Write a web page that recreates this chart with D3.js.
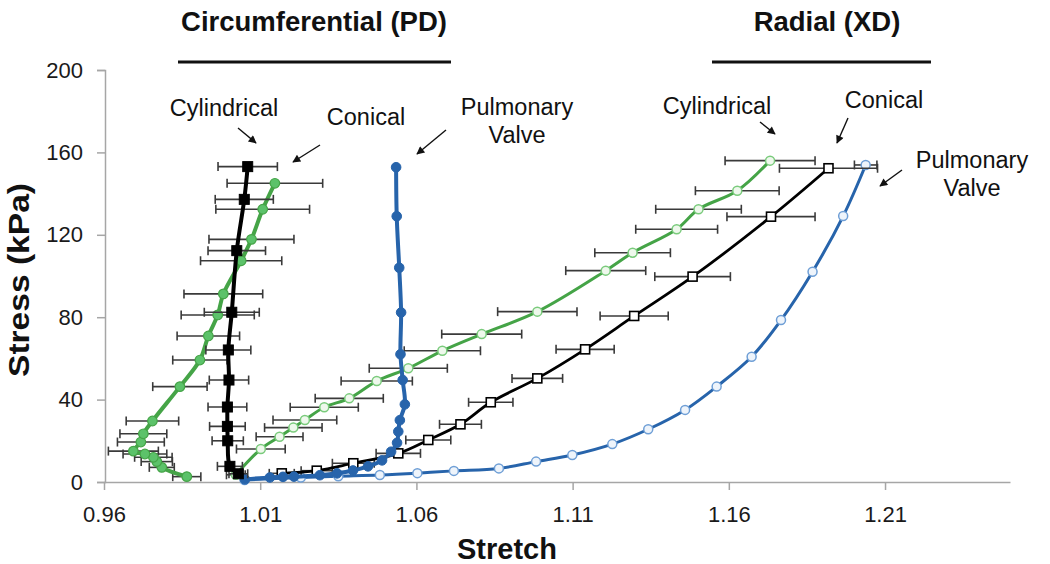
<!DOCTYPE html>
<html>
<head>
<meta charset="utf-8">
<script src="https://cdn.jsdelivr.net/npm/d3@7"></script>
<style>
  html, body { margin: 0; padding: 0; background: #fff; }
  svg { display: block; font-family: "Liberation Sans", Arial, sans-serif; }
</style>
</head>
<body>
<svg id="chart" width="1050" height="564"></svg>
<script>
// ---------- Data ----------
const xTicks = [0.96, 1.01, 1.06, 1.11, 1.16, 1.21];
const yTicks = [0, 40, 80, 120, 160, 200];

// Circumferential (PD) - Cylindrical (filled black squares)
const circCylStretch = [1.0030, 1.0003, 0.9996, 0.9995, 0.9995, 1.0000, 0.9998, 1.0009, 1.0025, 1.0049, 1.0060];
const circCylStress  = [4.0, 7.6, 20.0, 27.0, 36.4, 49.5, 64.1, 82.4, 112.3, 137.2, 153.1];
const circCylErr     = [0.003, 0.004, 0.005, 0.0057, 0.0062, 0.0063, 0.0072, 0.0088, 0.0092, 0.0093, 0.0095];

// Circumferential (PD) - Conical (filled green circles)
const circConStretch = [0.9865, 0.9785, 0.9769, 0.9758, 0.9731, 0.9694, 0.9718, 0.9726, 0.9755, 0.9843, 0.9907, 0.9934, 0.9964, 0.9982, 1.0039, 1.0072, 1.0108, 1.0147];
const circConStress  = [2.6, 7.1, 9.9, 12.0, 13.6, 15.0, 19.4, 23.4, 29.6, 46.3, 59.2, 70.9, 81.1, 91.3, 107.4, 117.8, 132.4, 145.0];
const circConErr     = [0.0045, 0.004, 0.005, 0.006, 0.007, 0.008, 0.0075, 0.0075, 0.0084, 0.0087, 0.0087, 0.010, 0.0117, 0.0126, 0.013, 0.0136, 0.015, 0.0153];

// Circumferential (PD) - Pulmonary Valve (filled blue circles)
const circPVStretch = [1.0051, 1.0131, 1.0173, 1.0208, 1.0291, 1.0346, 1.0397, 1.0445, 1.0490, 1.0519, 1.0538, 1.0542, 1.0547, 1.0563, 1.0556, 1.0549, 1.0551, 1.0545, 1.0537, 1.0535];
const circPVStress  = [1.3, 2.2, 2.5, 2.6, 3.3, 4.2, 5.6, 7.6, 10.5, 14.7, 19.0, 24.5, 30.0, 37.7, 49.5, 62.0, 82.3, 104.0, 129.0, 152.8];

// Radial (XD) - Cylindrical (hollow green circles)
const radCylStretch = [1.0022, 1.0102, 1.0162, 1.0206, 1.0243, 1.0305, 1.0385, 1.0473, 1.0574, 1.0683, 1.0809, 1.0987, 1.1206, 1.1292, 1.1433, 1.1503, 1.1627, 1.1732];
const radCylStress  = [3.5, 16.0, 22.0, 26.4, 30.1, 36.3, 40.6, 49.0, 55.2, 63.7, 71.8, 82.7, 102.6, 111.3, 122.7, 132.4, 141.4, 156.0];
const radCylErr     = [0.003, 0.0078, 0.0075, 0.0092, 0.0102, 0.0109, 0.0109, 0.0114, 0.0125, 0.0122, 0.0128, 0.0127, 0.0128, 0.0121, 0.0131, 0.0137, 0.0134, 0.0144];

// Radial (XD) - Conical (hollow black squares)
const radConStretch = [1.0169, 1.0281, 1.0398, 1.0542, 1.0638, 1.0741, 1.0838, 1.0987, 1.1140, 1.1297, 1.1484, 1.1735, 1.1919];
const radConStress  = [4.2, 5.5, 9.1, 13.9, 20.4, 28.0, 38.7, 50.3, 64.4, 80.6, 99.7, 128.8, 152.3];
const radConErr     = [0.004, 0.005, 0.0067, 0.0071, 0.0072, 0.0067, 0.0071, 0.0081, 0.0093, 0.0109, 0.0121, 0.0141, 0.0157];

// Radial (XD) - Pulmonary Valve (hollow blue circles)
const radPVStretch = [1.0050, 1.0230, 1.0350, 1.0483, 1.0603, 1.0720, 1.0864, 1.0983, 1.1099, 1.1227, 1.1342, 1.1460, 1.1561, 1.1673, 1.1767, 1.1868, 1.1966, 1.2038];
const radPVStress  = [1.0, 2.2, 2.8, 3.4, 4.3, 5.4, 6.6, 9.9, 13.1, 18.4, 25.6, 35.0, 46.3, 60.8, 78.6, 102.1, 129.1, 153.9];
const radPVErr     = [0, 0, 0, 0, 0, 0, 0, 0, 0, 0, 0, 0, 0, 0, 0, 0, 0, 0.0036];

// ---------- Chart ----------
const svg = d3.select("#chart");
const x = d3.scaleLinear().domain([0.96, 1.25]).range([104, 1010]);
const y = d3.scaleLinear().domain([0, 200]).range([482, 70]);

const axisColor = "#a6a6a6";

// Y axis
const yAxis = svg.append("g").attr("transform", "translate(105,0)")
  .call(d3.axisLeft(y).tickValues(yTicks).tickSize(8).tickPadding(14).tickFormat(d3.format("d")));
yAxis.select(".domain").attr("stroke", axisColor).attr("stroke-width", 1.5);
yAxis.selectAll(".tick line").attr("stroke", axisColor).attr("stroke-width", 1.5);
yAxis.selectAll(".tick text").attr("font-size", 22).attr("fill", "#1a1a1a")
  .attr("font-family", "Liberation Sans, Arial, sans-serif");

// X axis
const xAxis = svg.append("g").attr("transform", "translate(0,482)")
  .call(d3.axisBottom(x).tickValues(xTicks).tickSize(8).tickSizeOuter(0).tickPadding(16).tickFormat(d3.format(".2f")));
xAxis.select(".domain").attr("stroke", axisColor).attr("stroke-width", 1.5);
xAxis.selectAll(".tick line").attr("stroke", axisColor).attr("stroke-width", 1.5);
xAxis.selectAll(".tick text").attr("font-size", 22).attr("fill", "#1a1a1a")
  .attr("font-family", "Liberation Sans, Arial, sans-serif");

// Axis titles
svg.append("text").attr("x", 507).attr("y", 559).attr("text-anchor", "middle")
  .attr("font-size", 29).attr("font-weight", "bold").attr("fill", "#111").text("Stretch");
svg.append("text").attr("transform", "translate(29,280) rotate(-90)").attr("text-anchor", "middle")
  .attr("font-size", 29).attr("font-weight", "bold").attr("fill", "#111")
  .attr("textLength", 194).attr("lengthAdjust", "spacingAndGlyphs").text("Stress (kPa)");

// Group headers
svg.append("text").attr("x", 314).attr("y", 31).attr("text-anchor", "middle")
  .attr("font-size", 27.5).attr("font-weight", "bold").attr("fill", "#111").text("Circumferential (PD)");
svg.append("text").attr("x", 827).attr("y", 31).attr("text-anchor", "middle")
  .attr("font-size", 27.5).attr("font-weight", "bold").attr("fill", "#111").text("Radial (XD)");
svg.append("line").attr("x1", 178).attr("x2", 451).attr("y1", 62).attr("y2", 62)
  .attr("stroke", "#111").attr("stroke-width", 3);
svg.append("line").attr("x1", 712).attr("x2", 931).attr("y1", 62).attr("y2", 62)
  .attr("stroke", "#111").attr("stroke-width", 3);

// ---------- Series drawing ----------
const plot = svg.append("g");

function zip(xs, ys, es) {
  return xs.map((v, i) => ({ x: v, y: ys[i], e: es ? es[i] : 0 }));
}

function errorBars(data, color) {
  const g = plot.append("g").attr("stroke", color).attr("stroke-width", 1.6).attr("fill", "none");
  data.filter(d => d.e > 0).forEach(d => {
    const yy = y(d.y), x0 = x(d.x - d.e), x1 = x(d.x + d.e);
    g.append("line").attr("x1", x0).attr("x2", x1).attr("y1", yy).attr("y2", yy);
    g.append("line").attr("x1", x0).attr("x2", x0).attr("y1", yy - 4.5).attr("y2", yy + 4.5);
    g.append("line").attr("x1", x1).attr("x2", x1).attr("y1", yy - 4.5).attr("y2", yy + 4.5);
  });
}

function seriesLine(data, color, width, curve) {
  plot.append("path").datum(data)
    .attr("fill", "none").attr("stroke", color).attr("stroke-width", width)
    .attr("stroke-linejoin", "round").attr("stroke-linecap", "round")
    .attr("d", d3.line().x(d => x(d.x)).y(d => y(d.y)).curve(curve));
}

function circles(data, r, fill, stroke, sw) {
  plot.append("g").selectAll("circle").data(data).join("circle")
    .attr("cx", d => x(d.x)).attr("cy", d => y(d.y)).attr("r", r)
    .attr("fill", fill).attr("stroke", stroke).attr("stroke-width", sw);
}

function squares(data, s, fill, stroke, sw) {
  plot.append("g").selectAll("rect").data(data).join("rect")
    .attr("x", d => x(d.x) - s / 2).attr("y", d => y(d.y) - s / 2)
    .attr("width", s).attr("height", s)
    .attr("fill", fill).attr("stroke", stroke).attr("stroke-width", sw);
}

const errColor = "#3a3a3a";
const greenLine = "#45a447", greenFill = "#5cc26a", greenLight = "#7acb7c";
const blueLine = "#2764ab", blueLight = "#6f9fd6";

// Radial PV
const radPV = zip(radPVStretch, radPVStress, radPVErr);
errorBars(radPV, errColor);
seriesLine(radPV, blueLine, 3, d3.curveCatmullRom);
circles(radPV, 4.5, "#eef4fb", blueLight, 1.5);

// Radial Conical
const radCon = zip(radConStretch, radConStress, radConErr);
errorBars(radCon, errColor);
seriesLine(radCon, "#000", 2.8, d3.curveCatmullRom);
squares(radCon, 9, "#ffffff", "#000", 1.6);

// Radial Cylindrical
const radCyl = zip(radCylStretch, radCylStress, radCylErr);
errorBars(radCyl, errColor);
seriesLine(radCyl, greenLine, 3, d3.curveCatmullRom);
circles(radCyl, 4.5, "#eef8ec", greenLight, 1.5);

// Circumferential PV
const circPV = zip(circPVStretch, circPVStress, null);
seriesLine(circPV, blueLine, 4, d3.curveCatmullRom);
circles(circPV, 4.8, blueLine, blueLine, 1);

// Circumferential Conical
const circCon = zip(circConStretch, circConStress, circConErr);
errorBars(circCon, errColor);
seriesLine(circCon, greenLine, 4, d3.curveCatmullRom);
circles(circCon, 4.8, greenFill, greenLine, 1.2);

// Circumferential Cylindrical
const circCyl = zip(circCylStretch, circCylStress, circCylErr);
errorBars(circCyl, errColor);
seriesLine(circCyl, "#000", 4, d3.curveCatmullRom);
squares(circCyl, 10, "#000", "#000", 1);

// ---------- Annotations ----------
const ann = svg.append("g").attr("font-size", 23.5).attr("fill", "#111").attr("text-anchor", "middle");
function label(tx, ty, lines) {
  lines.forEach((t, i) => ann.append("text").attr("x", tx).attr("y", ty + i * 28).text(t));
}
label(224, 116, ["Cylindrical"]);
label(366, 125, ["Conical"]);
label(517, 115, ["Pulmonary", "Valve"]);
label(717, 114, ["Cylindrical"]);
label(884, 108, ["Conical"]);
label(972, 168, ["Pulmonary", "Valve"]);

const defs = svg.append("defs");
defs.append("marker").attr("id", "arrow").attr("viewBox", "0 0 10 10")
  .attr("refX", 9).attr("refY", 5).attr("markerWidth", 10).attr("markerHeight", 8)
  .attr("markerUnits", "userSpaceOnUse").attr("orient", "auto")
  .append("path").attr("d", "M0,0 L10,5 L0,10 z").attr("fill", "#111");

const arrows = [
  [238, 128, 256, 143],
  [320, 145, 293, 162],
  [446, 130, 417, 154],
  [760, 122, 775, 134],
  [848, 118, 837, 143],
  [902, 170, 880, 186]
];
svg.append("g").selectAll("line").data(arrows).join("line")
  .attr("x1", d => d[0]).attr("y1", d => d[1]).attr("x2", d => d[2]).attr("y2", d => d[3])
  .attr("stroke", "#111").attr("stroke-width", 1.4).attr("marker-end", "url(#arrow)");
</script>
</body>
</html>
